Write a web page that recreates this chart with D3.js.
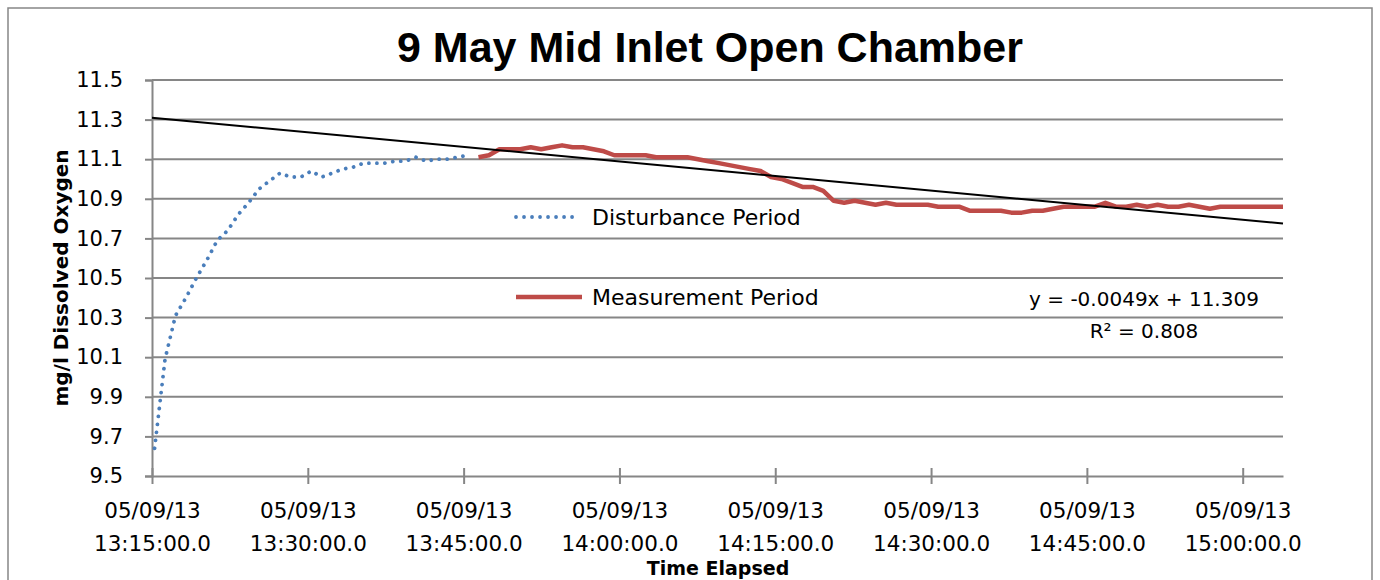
<!DOCTYPE html>
<html>
<head>
<meta charset="utf-8">
<script src="https://cdn.jsdelivr.net/npm/d3@7"></script>
<style>
  body { margin: 0; background: #fff; }
  text { font-family: 'DejaVu Sans', sans-serif; fill: #000; }
</style>
</head>
<body>
<svg id="chart" width="1380" height="580"></svg>
<script>
// y axis ticks (mg/l)
const yTicks = [9.5, 9.7, 9.9, 10.1, 10.3, 10.5, 10.7, 10.9, 11.1, 11.3, 11.5];
// x axis ticks, 9 May 2013
const xTickTimes = ['13:15:00', '13:30:00', '13:45:00', '14:00:00', '14:15:00', '14:30:00', '14:45:00', '15:00:00'];
const dateLabel = '05/09/13';

// logger readings, one roughly every minute from 13:15:15
const firstReading = '13:15:15';
const readingStepSec = 60.35;

// disturbance period (first 31 readings)
const disturbance = [
  9.64, 10.09, 10.31, 10.40, 10.50, 10.59, 10.69, 10.74, 10.82, 10.88,
  10.95, 10.99, 11.03, 11.01, 11.01, 11.04, 11.01, 11.03, 11.05, 11.06,
  11.08, 11.08, 11.08, 11.09, 11.09, 11.11, 11.09, 11.10, 11.10, 11.11,
  11.12
];
// measurement period (remaining readings)
const measurement = [
  11.11, 11.12, 11.15, 11.15, 11.15, 11.16, 11.15, 11.16, 11.17, 11.16,
  11.16, 11.15, 11.14, 11.12, 11.12, 11.12, 11.12, 11.11, 11.11, 11.11,
  11.11, 11.10, 11.09, 11.08, 11.07, 11.06, 11.05, 11.04, 11.01, 11.00,
  10.98, 10.96, 10.96, 10.94, 10.89, 10.88, 10.89, 10.88, 10.87, 10.88,
  10.87, 10.87, 10.87, 10.87, 10.86, 10.86, 10.86, 10.84, 10.84, 10.84,
  10.84, 10.83, 10.83, 10.84, 10.84, 10.85, 10.86, 10.86, 10.86, 10.86,
  10.88, 10.86, 10.86, 10.87, 10.86, 10.87, 10.86, 10.86, 10.87, 10.86,
  10.85, 10.86, 10.86, 10.86, 10.86, 10.86, 10.86, 10.86
];

// linear trendline (x = reading number)
const trendSlope = -0.0049;
const trendIntercept = 11.309;
const trendR2 = 0.808;

const parseT = s => {
  const [h, m, sec] = s.split(':').map(Number);
  return new Date(2013, 4, 9, h, m, sec);
};

const t0 = parseT(firstReading);
const timeAt = i => new Date(t0.getTime() + i * readingStepSec * 1000);
const distData = disturbance.map((v, i) => ({ t: timeAt(i), v }));
const measData = measurement.map((v, i) => ({ t: timeAt(i + disturbance.length), v }));
const nPoints = disturbance.length + measurement.length;
const axisStart = parseT(xTickTimes[0]);
const axisEnd = timeAt(nPoints - 1);

const margin = { top: 80, right: 97, bottom: 104, left: 152 };
const W = 1380, H = 580;
const svg = d3.select('#chart');

const x = d3.scaleTime().domain([axisStart, axisEnd]).range([margin.left, W - margin.right]);
const y = d3.scaleLinear().domain([9.5, 11.5]).range([H - margin.bottom, margin.top]);

// outer frame
svg.append('rect')
  .attr('x', 8).attr('y', 8).attr('width', 1364).attr('height', 600)
  .attr('fill', 'none').attr('stroke', '#868686').attr('stroke-width', 1.5);

// horizontal gridlines
svg.append('g')
  .selectAll('line')
  .data(yTicks.slice(1))
  .enter()
  .append('line')
  .attr('x1', x.range()[0]).attr('x2', x.range()[1])
  .attr('y1', d => y(d)).attr('y2', d => y(d))
  .attr('stroke', '#868686').attr('stroke-width', 2);

// y axis
const yAxis = svg.append('g')
  .attr('transform', `translate(${margin.left},0)`)
  .call(d3.axisLeft(y).tickValues(yTicks).tickSize(7).tickPadding(22).tickFormat(d3.format('.1f')));
yAxis.select('.domain').attr('stroke', '#868686').attr('stroke-width', 2);
yAxis.selectAll('.tick line').attr('stroke', '#868686').attr('stroke-width', 2);
yAxis.selectAll('text').style('font-size', '21px').attr('fill', '#000');

// x axis (cross tick marks)
const xTicks = xTickTimes.map(parseT);
const xAxis = svg.append('g')
  .attr('transform', `translate(0,${y(9.5)})`)
  .call(d3.axisBottom(x).tickValues(xTicks).tickSizeInner(8).tickSizeOuter(0).tickFormat(''));
xAxis.select('.domain').attr('stroke', '#868686').attr('stroke-width', 2);
xAxis.selectAll('.tick line').attr('y1', -8).attr('stroke', '#868686').attr('stroke-width', 2);
const fmtTime = d3.timeFormat('%H:%M:%S.0');
xAxis.selectAll('.tick').each(function (d) {
  const t = d3.select(this).append('text')
    .attr('text-anchor', 'middle')
    .style('font-size', '21.5px');
  t.append('tspan').attr('x', 0).attr('y', 42).text(dateLabel);
  t.append('tspan').attr('x', 0).attr('y', 75).text(fmtTime(d));
});

// disturbance period: dotted blue
const line = d3.line().x(d => x(d.t)).y(d => y(d.v));
svg.append('path')
  .datum(distData)
  .attr('d', line)
  .attr('fill', 'none')
  .attr('stroke', '#4A7EBB')
  .attr('stroke-width', 3.8)
  .attr('stroke-linecap', 'round')
  .attr('stroke-dasharray', '0.01 8');

// measurement period: solid red
svg.append('path')
  .datum(measData)
  .attr('d', line)
  .attr('fill', 'none')
  .attr('stroke', '#BE4B48')
  .attr('stroke-width', 4.5)
  .attr('stroke-linejoin', 'round');

// trendline across the axis span
const trendData = [
  { t: axisStart, v: trendIntercept },
  { t: axisEnd, v: trendIntercept + trendSlope * nPoints }
];
svg.append('path')
  .datum(trendData)
  .attr('d', line)
  .attr('fill', 'none')
  .attr('stroke', '#000')
  .attr('stroke-width', 2);

// legend
const legend = svg.append('g').attr('transform', 'translate(516,0)');
legend.append('line')
  .attr('x1', 0).attr('x2', 64).attr('y1', 217).attr('y2', 217)
  .attr('stroke', '#4A7EBB').attr('stroke-width', 3.8)
  .attr('stroke-linecap', 'round').attr('stroke-dasharray', '0.01 8');
legend.append('text').attr('x', 76).attr('y', 217).attr('dy', '0.36em')
  .style('font-size', '22px').text('Disturbance Period');
legend.append('line')
  .attr('x1', 0).attr('x2', 66).attr('y1', 297).attr('y2', 297)
  .attr('stroke', '#BE4B48').attr('stroke-width', 4.5);
legend.append('text').attr('x', 76).attr('y', 297).attr('dy', '0.36em')
  .style('font-size', '22px').text('Measurement Period');

// trendline label
const eq = svg.append('text').attr('text-anchor', 'middle').style('font-size', '20px');
eq.append('tspan').attr('x', 1144).attr('y', 306)
  .text(`y = ${trendSlope.toFixed(4)}x + ${trendIntercept.toFixed(3)}`);
eq.append('tspan').attr('x', 1144).attr('y', 338)
  .text(`R² = ${trendR2.toFixed(3)}`);

// titles
svg.append('text')
  .attr('x', 710).attr('y', 62).attr('text-anchor', 'middle')
  .style('font-family', "'Liberation Sans', sans-serif")
  .style('font-size', '43px').style('font-weight', 'bold')
  .text('9 May Mid Inlet Open Chamber');

svg.append('text')
  .attr('x', 718).attr('y', 575).attr('text-anchor', 'middle')
  .style('font-size', '19px').style('font-weight', 'bold')
  .text('Time Elapsed');

svg.append('text')
  .attr('transform', 'translate(68,278) rotate(-90)')
  .attr('text-anchor', 'middle')
  .style('font-size', '20px').style('font-weight', 'bold')
  .text('mg/l Dissolved  Oxygen');
</script>
</body>
</html>
